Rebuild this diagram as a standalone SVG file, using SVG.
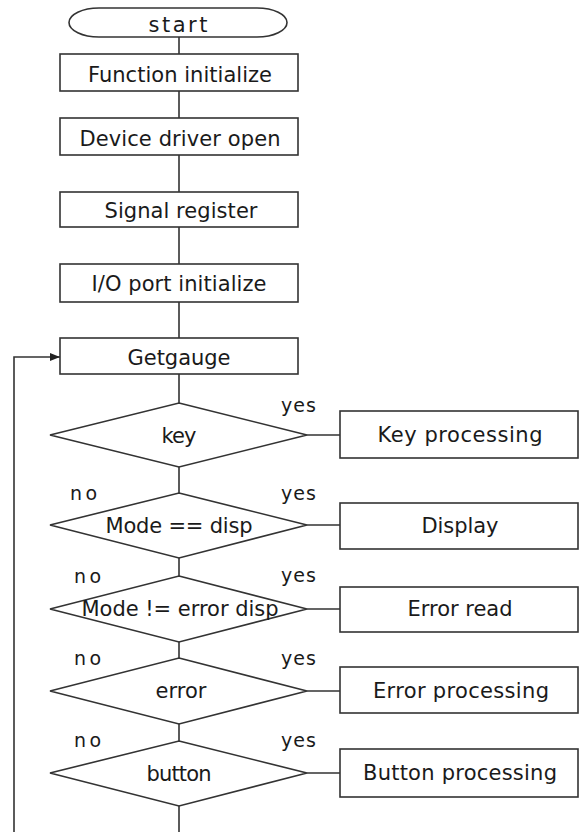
<svg xmlns="http://www.w3.org/2000/svg" width="579" height="832" viewBox="0 0 579 832">
<style>
.s{fill:#fff;stroke:#333;stroke-width:1.6}
.c{fill:none;stroke:#333;stroke-width:1.6}
text{font-family:"DejaVu Sans","Liberation Sans",sans-serif;font-size:21px;fill:#1a1a1a}
.m{text-anchor:middle}
.l{font-size:19px}
</style>
<defs>
<marker id="ah" markerWidth="10" markerHeight="8" refX="10" refY="4" orient="auto" markerUnits="userSpaceOnUse">
<path d="M0,0 L10,4 L0,8 Z" fill="#222"/>
</marker>
</defs>
<rect width="579" height="832" fill="#fff"/>
<g id="connectors">
<path class="c" d="M179,37 V54 M179,91 V118 M179,155 V192 M179,227 V264 M179,302 V338 M179,374 V403 M179,467 V493 M179,558 V576 M179,642 V658 M179,724 V741 M179,806 V832"/>
<path class="c" d="M14,832 V357 H60" marker-end="url(#ah)"/>
<path class="c" d="M307,435 H340 M307,525 H340 M307,609 H340 M307,691 H340 M307,773 H340"/>
</g>
<g id="labels">
<text x="281" y="412" class="l" textLength="35" lengthAdjust="spacing">yes</text>
<text x="281" y="500" class="l" textLength="35" lengthAdjust="spacing">yes</text>
<text x="281" y="582" class="l" textLength="35" lengthAdjust="spacing">yes</text>
<text x="281" y="665" class="l" textLength="35" lengthAdjust="spacing">yes</text>
<text x="281" y="747" class="l" textLength="35" lengthAdjust="spacing">yes</text>
<text x="70" y="500" class="l" textLength="27" lengthAdjust="spacing">no</text>
<text x="74" y="583" class="l" textLength="27" lengthAdjust="spacing">no</text>
<text x="74" y="665" class="l" textLength="27" lengthAdjust="spacing">no</text>
<text x="74" y="747" class="l" textLength="27" lengthAdjust="spacing">no</text>
</g>
<g id="start"><rect class="s" x="69" y="8" width="218" height="29" rx="30" ry="14.5"/><text x="178" y="32" class="m" textLength="59" lengthAdjust="spacing">start</text></g>
<g id="func-init"><rect class="s" x="60" y="54" width="238" height="37"/><text x="180" y="82" class="m" textLength="184" lengthAdjust="spacing">Function initialize</text></g>
<g id="dev-open"><rect class="s" x="60" y="118" width="238" height="37"/><text x="180" y="146" class="m" textLength="201" lengthAdjust="spacing">Device driver open</text></g>
<g id="signal"><rect class="s" x="60" y="192" width="238" height="35"/><text x="181" y="218" class="m" textLength="153" lengthAdjust="spacing">Signal register</text></g>
<g id="io-init"><rect class="s" x="60" y="264" width="238" height="38"/><text x="179" y="291" class="m" textLength="175" lengthAdjust="spacing">I/O port initialize</text></g>
<g id="getgauge"><rect class="s" x="60" y="338" width="238" height="36"/><text x="179" y="365" class="m" textLength="103" lengthAdjust="spacing">Getgauge</text></g>
<g id="d-key"><path class="s" d="M179,403 L307,435 L179,467 L50,435 Z"/><text x="179" y="443" class="m" textLength="35" lengthAdjust="spacing">key</text></g>
<g id="d-disp"><path class="s" d="M179,493 L307,525 L179,558 L50,525 Z"/><text x="179" y="533" class="m" textLength="147" lengthAdjust="spacing">Mode == disp</text></g>
<g id="d-errdisp"><path class="s" d="M179,576 L307,609 L179,642 L50,609 Z"/><text x="180" y="616" class="m" textLength="197" lengthAdjust="spacing">Mode != error disp</text></g>
<g id="d-error"><path class="s" d="M179,658 L307,691 L179,724 L50,691 Z"/><text x="181" y="698" class="m" textLength="51" lengthAdjust="spacing">error</text></g>
<g id="d-button"><path class="s" d="M179,741 L307,773 L179,806 L50,773 Z"/><text x="179" y="781" class="m" textLength="65" lengthAdjust="spacing">button</text></g>
<g id="key-proc"><rect class="s" x="340" y="411" width="238" height="47"/><text x="460" y="442" class="m" textLength="165" lengthAdjust="spacing">Key processing</text></g>
<g id="display"><rect class="s" x="340" y="503" width="238" height="46"/><text x="460" y="533" class="m" textLength="77" lengthAdjust="spacing">Display</text></g>
<g id="err-read"><rect class="s" x="340" y="587" width="238" height="45"/><text x="460" y="616" class="m" textLength="105" lengthAdjust="spacing">Error read</text></g>
<g id="err-proc"><rect class="s" x="340" y="667" width="238" height="46"/><text x="461" y="698" class="m" textLength="176" lengthAdjust="spacing">Error processing</text></g>
<g id="btn-proc"><rect class="s" x="340" y="749" width="238" height="48"/><text x="460" y="780" class="m" textLength="194" lengthAdjust="spacing">Button processing</text></g>
</svg>
